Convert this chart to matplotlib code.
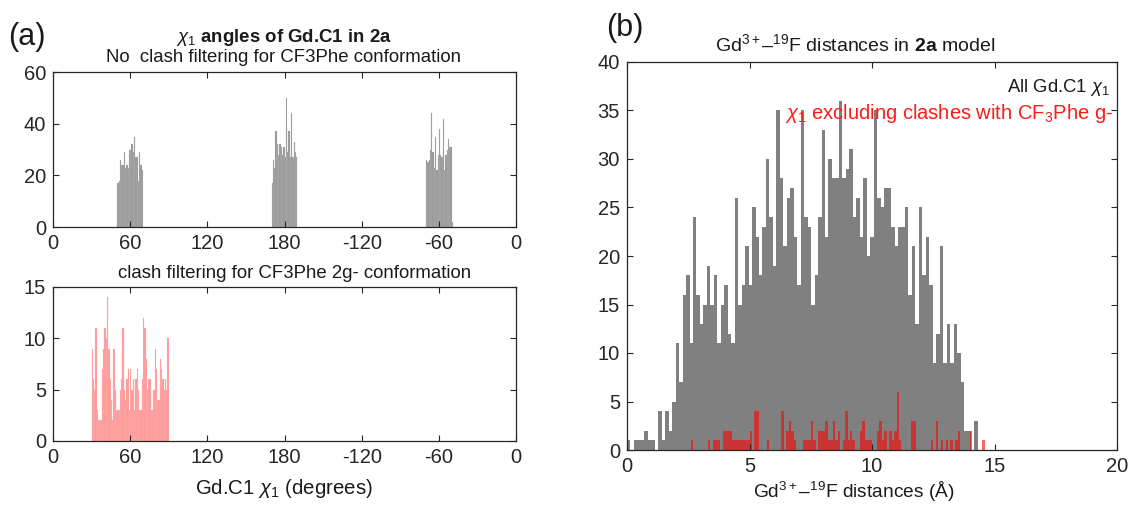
import numpy as np
import matplotlib
matplotlib.use('Agg')
import matplotlib.pyplot as plt

plt.rcParams['font.family'] = ['Liberation Sans', 'DejaVu Sans']
plt.rcParams['mathtext.fontset'] = 'custom'
plt.rcParams['mathtext.rm'] = 'Liberation Sans'
plt.rcParams['mathtext.it'] = 'Liberation Sans:italic'
plt.rcParams['mathtext.bf'] = 'Liberation Sans:bold'

# ---------------- data ----------------
# panel (a) top: chi1 histogram, all rotamers (1-degree bins, three clusters)
chi_bin_width = 1.0
chi_cluster_starts = [50, 170, 290]
chi_all_c1 = [17, 18, 26, 24, 24, 29, 23, 24, 23, 30, 30, 32, 29, 35, 27, 27, 18, 29, 24, 22]
chi_all_c2 = [17, 26, 23, 37, 32, 28, 32, 31, 28, 31, 27, 50, 29, 37, 27, 44, 27, 33, 29, 27]
chi_all_c3 = [26, 25, 26, 30, 44, 29, 23, 35, 22, 28, 38, 28, 27, 42, 22, 28, 30, 34, 31, 31, 2]

# panel (a) bottom: chi1 histogram after clash filtering
chi_filt_start = 30
chi_filtered = [9, 6, 5, 11, 3, 2, 2, 2, 7, 9, 11, 10, 14, 9, 6, 4, 2, 9, 5, 3,
                3, 3, 5, 6, 11, 5, 4, 6, 7, 3, 7, 5, 6, 3, 6, 7, 5, 3, 3, 6,
                12, 11, 8, 5, 6, 6, 3, 3, 5, 9, 7, 4, 4, 8, 7, 6, 5, 6, 5, 10]

chi_ticks = [0, 60, 120, 180, 240, 300, 360]
chi_tick_labels = ['0', '60', '120', '180', '-120', '-60', '0']

# panel (b): Gd-F distance histograms
dist_bin_width_all = 0.1418
dist_all = [1, 0, 1, 1, 1, 2, 1, 1, 0, 4,
            1, 4, 2, 5, 11, 7, 16, 18, 11, 24,
            16, 13, 15, 19, 15, 18, 11, 15, 17, 12,
            11, 26, 15, 17, 21, 17, 25, 22, 18, 23,
            30, 24, 19, 35, 28, 21, 26, 27, 22, 17,
            35, 24, 23, 15, 18, 24, 33, 22, 30, 28,
            28, 36, 28, 29, 31, 24, 26, 22, 28, 20,
            22, 35, 26, 25, 27, 27, 23, 21, 23, 23,
            25, 16, 21, 13, 25, 18, 22, 17, 9, 12,
            21, 9, 13, 9, 13, 10, 7, 2, 2, 0,
            3]

dist_bin_width_red = 0.1
dist_red_bin_index = [26, 33, 35, 36, 37, 39, 40, 41, 42, 43, 44, 45, 46, 47, 48, 49, 50,
                      52, 53, 57, 63, 65, 66, 67, 68, 72, 73, 74, 75, 76, 78, 79, 80,
                      81, 82, 83, 84, 85, 86, 88, 89, 90, 91, 92, 95, 96, 97, 98, 99,
                      102, 103, 104, 105, 107, 108, 109, 110, 111, 116, 117, 124, 126,
                      128, 130, 132, 134, 135, 140, 145]
dist_red_counts = [1, 1, 1, 1, 1, 2, 2, 2, 2, 1, 1, 1, 1, 1, 1, 1, 2,
                   4, 4, 1, 4, 2, 3, 2, 1, 1, 1, 1, 3, 1, 2, 2, 2,
                   3, 1, 1, 3, 1, 2, 1, 4, 1, 2, 1, 2, 3, 1, 1, 1,
                   2, 3, 1, 2, 2, 1, 2, 6, 1, 3, 3, 1, 3,
                   1, 1, 1, 1, 2, 2, 1]

# ---------------- style ----------------
AX_COL = '#262626'
TXT = '#1a1a1a'
W, H = 1132, 507
fig = plt.figure(figsize=(W / 100, H / 100), dpi=100)


def style(ax, fs=14.5):
    for s in ax.spines.values():
        s.set_color(AX_COL)
        s.set_linewidth(0.9)
    ax.tick_params(direction='in', length=4, width=0.8, top=True, right=True,
                   colors=AX_COL, labelsize=fs, labelcolor=AX_COL, pad=5)


def fpos(l, t, r, b):
    return [l / W, 1 - b / H, (r - l) / W, (b - t) / H]


# ---- (a) top ----
ax1 = fig.add_axes(fpos(53, 72, 516, 227))
for start, counts in zip(chi_cluster_starts, [chi_all_c1, chi_all_c2, chi_all_c3]):
    lefts = start + np.arange(len(counts)) * chi_bin_width
    ax1.bar(lefts, counts, width=chi_bin_width, align='edge',
            color='#999999', edgecolor='#b8b8b8', linewidth=0.15)
ax1.set_xlim(0, 360)
ax1.set_ylim(0, 60)
ax1.set_yticks([0, 20, 40, 60])
ax1.set_xticks(chi_ticks)
ax1.set_xticklabels(chi_tick_labels)
style(ax1)

# ---- (a) bottom ----
ax2 = fig.add_axes(fpos(53, 287, 516, 441))
lefts = chi_filt_start + np.arange(len(chi_filtered)) * chi_bin_width
ax2.bar(lefts, chi_filtered, width=chi_bin_width, align='edge',
        color='#ff9a9a', edgecolor='#ffb4b4', linewidth=0.15)
ax2.set_xlim(0, 360)
ax2.set_ylim(0, 15)
ax2.set_yticks([0, 5, 10, 15])
ax2.set_xticks(chi_ticks)
ax2.set_xticklabels(chi_tick_labels)
style(ax2)

# ---- (b) ----
ax3 = fig.add_axes(fpos(627, 62, 1117, 450))
lefts = np.arange(len(dist_all)) * dist_bin_width_all
ax3.bar(lefts, dist_all, width=dist_bin_width_all, align='edge',
        color='#808080', linewidth=0)
red_lefts = np.array(dist_red_bin_index) * dist_bin_width_red
ax3.bar(red_lefts, dist_red_counts, width=dist_bin_width_red, align='edge',
        color='red', alpha=0.6, linewidth=0)
ax3.set_xlim(0, 20)
ax3.set_ylim(0, 40)
ax3.set_xticks([0, 5, 10, 15, 20])
ax3.set_yticks(np.arange(0, 41, 5))
style(ax3)

ax3.text(0.985, 0.935, r'All Gd.C1 $\chi_1$', transform=ax3.transAxes,
         ha='right', va='center', fontsize=13.3, color=TXT)
ax3.text(0.992, 0.866, r'$\chi_1$ excluding clashes with CF$_3$Phe g-',
         transform=ax3.transAxes, ha='right', va='center', fontsize=14.5,
         color='#ff1a1a')

# ---- texts ----
fig.text(27 / W, 1 - 37 / H, '(a)', fontsize=22, ha='center', va='center', color=TXT)
fig.text(625 / W, 1 - 28 / H, '(b)', fontsize=22, ha='center', va='center', color=TXT)

fig.text(284 / W, 1 - 37 / H, r'$\chi_1$ angles of Gd.C1 in 2a', fontsize=13.4,
         fontweight='bold', ha='center', va='center', color=TXT)
fig.text(284 / W, 1 - 57 / H, 'No  clash filtering for CF3Phe conformation', fontsize=13.4,
         ha='center', va='center', color=TXT)
fig.text(295 / W, 1 - 274 / H, 'clash filtering for CF3Phe 2g- conformation', fontsize=13.4,
         ha='center', va='center', color=TXT)
fig.text(284 / W, 1 - 489 / H, r'Gd.C1 $\chi_1$ (degrees)', fontsize=14.7,
         ha='center', va='center', color=TXT)

fig.text(855 / W, 1 - 44 / H, r'Gd$^{3+}$–$^{19}$F distances in $\mathbf{2a}$ model',
         fontsize=14, ha='center', va='center', color=TXT)
fig.text(854 / W, 1 - 492 / H, r'Gd$^{3+}$–$^{19}$F distances (Å)',
         fontsize=13.8, ha='center', va='center', color=TXT)

fig.savefig('out.png', dpi=100, facecolor='white')
